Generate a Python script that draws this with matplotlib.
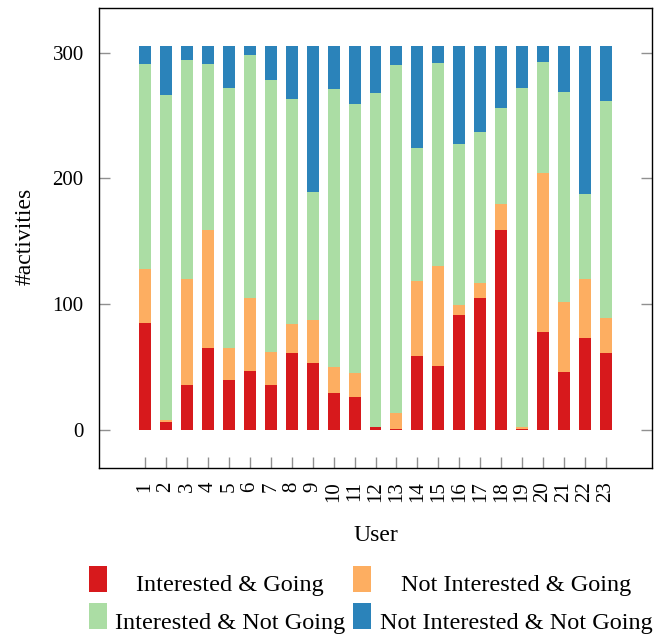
import matplotlib
matplotlib.use("Agg")
import matplotlib.pyplot as plt
from matplotlib.patches import Rectangle
import numpy as np

plt.rcParams['font.family'] = ['Liberation Serif', 'DejaVu Serif']

users = [str(i) for i in range(1, 24)]
interested_going = [85, 6, 36, 65, 40, 47, 36, 61, 53, 29, 26, 2, 1, 59, 51, 91, 105, 159, 1, 78, 46, 73, 61]
not_interested_going = [43, 2, 84, 94, 25, 58, 26, 23, 34, 21, 19, 0, 12, 59, 79, 8, 12, 21, 1, 126, 56, 47, 28]
interested_not_going = [163, 258, 174, 132, 207, 193, 216, 179, 102, 221, 214, 266, 277, 106, 162, 128, 120, 76, 270, 89, 167, 68, 173]
not_interested_not_going = [14, 39, 11, 14, 33, 7, 27, 42, 116, 34, 46, 37, 15, 81, 13, 78, 68, 49, 33, 12, 36, 117, 43]

series_names = ["Interested & Going", "Not Interested & Going",
                "Interested & Not Going", "Not Interested & Not Going"]
series = [interested_going, not_interested_going, interested_not_going, not_interested_not_going]
colors = ["#d7191c", "#fdae61", "#abdda4", "#2b83ba"]
yticks = [0, 100, 200, 300]

W, H = 657, 637
fig = plt.figure(figsize=(W / 100, H / 100), dpi=100)
ax = fig.add_axes([99 / W, 1 - 467.5 / H, (652 - 99) / W, (467.5 - 7.5) / H])

x = np.arange(1, len(users) + 1)
bottom = np.zeros(len(users))
for vals, c in zip(series, colors):
    v = np.array(vals, dtype=float)
    ax.bar(x, v, width=0.57, bottom=bottom, color=c, edgecolor='none', zorder=2)
    bottom += v

ax.set_xlim(-1.2, 25.2)
ax.set_ylim(-30, 336)
ax.set_xticks(x)
ax.set_xticklabels(users, rotation=90, fontsize=15)
ax.set_yticks(yticks)
ax.set_yticklabels([str(t) for t in yticks], fontsize=15)
ax.tick_params(axis='both', direction='in', length=8, width=1, color='#909090',
               top=False, right=True)
ax.tick_params(axis='y', pad=11)
ax.tick_params(axis='x', pad=10)
for s in ax.spines.values():
    s.set_linewidth(1.0)
    s.set_color('black')

ax.set_xlabel("User", fontsize=17)
ax.xaxis.set_label_coords(0.5, -0.147)
ax.xaxis.label.set_va('center')
ax.set_ylabel("#activities", fontsize=17)
ax.yaxis.set_label_coords(-0.134, 0.503)
ax.yaxis.label.set_va('center')

# legend (2 columns, text centered in each column)
handle_x = [89, 353]
text_cx = [230, 516]
rows_top = [566, 603]
baselines = [591, 629]
for i, (name, c) in enumerate(zip(series_names, colors)):
    r, col = divmod(i, 2)
    fig.add_artist(Rectangle((handle_x[col] / W, 1 - (rows_top[r] + 26) / H), 18 / W, 26 / H,
                             transform=fig.transFigure, facecolor=c, edgecolor='none'))
    fig.text(text_cx[col] / W, 1 - baselines[r] / H, name, fontsize=17.5,
             ha='center', va='baseline')

fig.savefig("out.png", dpi=100)
